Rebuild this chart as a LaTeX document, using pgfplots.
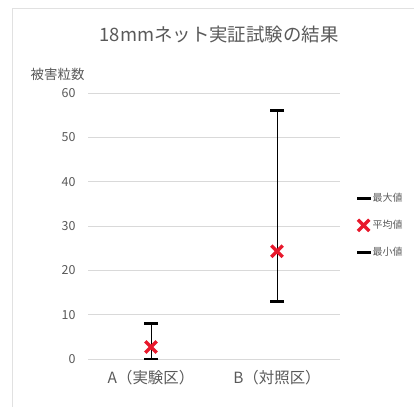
\documentclass[border=0pt]{standalone}
\usepackage{fontspec}
\setmainfont{Noto Sans CJK JP}
\usepackage{pgfplots}
\pgfplotsset{compat=1.18}
\definecolor{txt}{HTML}{595959}
\definecolor{grd}{HTML}{D9D9D9}
\definecolor{xred}{HTML}{E8192C}
\begin{document}
\begin{tikzpicture}
\path[use as bounding box] (0,0) rectangle (414bp,407bp);
\draw[grd!80, line width=0.8bp] (12bp,0) -- (12bp,399bp) -- (414bp,399bp);
\begin{axis}[
  at={(88bp,48bp)}, anchor=south west,
  scale only axis, width=252bp, height=266bp,
  xmin=-0.5, xmax=1.5, ymin=0, ymax=60,
  xtick={0,1}, xticklabels={A（実験区）,B（対照区）},
  ytick={0,10,...,60},
  axis line style={draw=none},
  major tick length=0pt,
  ymajorgrids, grid style={grd, line width=0.8bp},
  tick label style={font=\fontsize{12.5}{14}\selectfont, text=txt},
  /pgf/number format/assume math mode=true,
  yticklabel style={xshift=-9bp},
  xticklabel style={yshift=-8bp, font=\fontsize{15.5}{18}\selectfont},
  title={18mmネット実証試験の結果},
  title style={font=\fontsize{18.5}{21}\selectfont, text=txt, at={(axis description cs:0.52,1.0)}, yshift=53bp, anchor=center},
  clip=false,
  legend style={draw=none, fill=none, font=\fontsize{10}{12}\selectfont, text=txt,
    at={(1.065,0.63)}, anchor=north west, row sep=13bp, inner sep=0pt},
  legend cell align=left,
  legend image code/.code={\draw[#1] plot coordinates {(0.1cm,0cm)};},
]
\addplot[black, line width=0.8bp, forget plot] coordinates {(0,0) (0,8)};
\addplot[black, line width=0.8bp, forget plot] coordinates {(1,13) (1,56)};
\addplot[only marks, mark=-, mark size=7bp, black, mark options={line width=2.8bp}] coordinates {(0,8) (1,56)};
\addlegendentry{最大値}
\addplot[only marks, mark=x, mark size=8bp, xred, mark options={line width=3.4bp}] coordinates {(0,2.7) (1,24.3)};
\addlegendentry{平均値}
\addplot[only marks, mark=-, mark size=7bp, black, mark options={line width=2.8bp}] coordinates {(0,0) (1,13)};
\addlegendentry{最小値}
\node[anchor=east, text=txt, font=\fontsize{13.5}{16}\selectfont] at (axis description cs:0,1) [yshift=19bp] {被害粒数};
\end{axis}
\end{tikzpicture}
\end{document}
